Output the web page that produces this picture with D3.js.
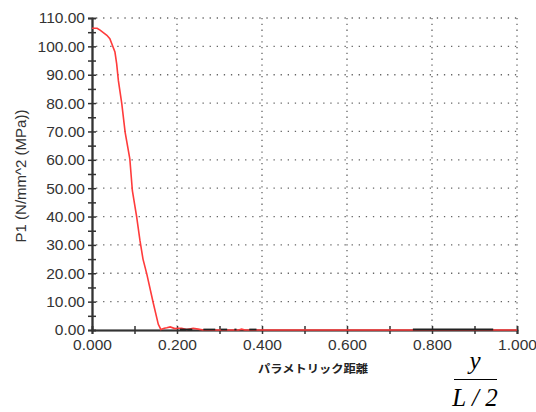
<!DOCTYPE html>
<html>
<head>
<meta charset="utf-8">
<script src="https://cdn.jsdelivr.net/npm/d3@7"></script>
<style>
  html, body { margin: 0; padding: 0; background: #fff; }
  svg { display: block; }
</style>
</head>
<body>
<div id="chart"></div>
<script>
// parametric distance (x) and P1 stress (MPa)
const distance = [0, 0.012, 0.019, 0.035, 0.042, 0.054, 0.058, 0.062, 0.070, 0.078, 0.089, 0.095,
  0.105, 0.113, 0.120, 0.129, 0.144, 0.156, 0.162, 0.170, 0.176, 0.184, 0.195, 0.203, 0.211,
  0.223, 0.238, 0.250, 0.262, 0.300, 0.345, 0.352, 0.360, 0.400, 0.500, 0.600, 0.700, 0.800,
  0.900, 1.000];
const p1 = [106.4, 106.4, 105.7, 103.9, 102.7, 98.0, 93.9, 88.0, 79.9, 69.7, 60.3, 49.1,
  40.0, 31.4, 25.0, 19.7, 9.6, 2.0, 0.2, 0.6, 0.8, 1.1, 0.5, 0.6, 0.6,
  0.2, 0.6, 0.3, 0, 0, 0, 0.3, 0, 0, 0, 0, 0, 0,
  0, 0];
// dark segments lying on the zero line
const darkStart = [0.207, 0.262, 0.303, 0.335, 0.370, 0.755];
const darkEnd   = [0.236, 0.290, 0.318, 0.340, 0.387, 0.944];

const yMajor = d3.range(0, 111, 10);
const yMinor = d3.range(5, 110, 10);
const xMajor = [0, 0.2, 0.4, 0.6, 0.8, 1.0];
const xMinor = [0.1, 0.3, 0.5, 0.7, 0.9];

const W = 536, H = 412;
const svg = d3.select('#chart').append('svg')
  .attr('width', W).attr('height', H);

const x = d3.scaleLinear().domain([0, 1]).range([92, 517]);
const y = d3.scaleLinear().domain([0, 110]).range([330, 18]);

// grid
svg.append('g').selectAll('line').data(yMajor.filter(d => d > 0)).enter().append('line')
  .attr('x1', x(0) + 4).attr('x2', x(1))
  .attr('y1', d => y(d)).attr('y2', d => y(d))
  .attr('stroke', '#666').attr('stroke-width', 1.3)
  .attr('stroke-dasharray', '1.3,5.8');

svg.append('g').selectAll('line').data(xMajor.filter(d => d > 0)).enter().append('line')
  .attr('x1', d => x(d)).attr('x2', d => x(d))
  .attr('y1', y(110)).attr('y2', y(0) - 4)
  .attr('stroke', '#666').attr('stroke-width', 1.3)
  .attr('stroke-dasharray', '1.3,4.5');

// axes
const font = '"Liberation Sans", Arial, sans-serif';

svg.append('g').attr('transform', `translate(${x(0)},0)`)
  .call(d3.axisLeft(y).tickValues(yMajor).tickSize(4).tickPadding(3)
    .tickFormat(d3.format('.2f')));
svg.append('g').attr('transform', `translate(${x(0)},0)`)
  .call(d3.axisRight(y).tickValues(yMajor.concat(yMinor)).tickSize(4).tickFormat(''));
svg.append('g').attr('transform', `translate(${x(0)},0)`)
  .call(d3.axisLeft(y).tickValues(yMinor).tickSize(4).tickFormat(''));

svg.append('g').attr('transform', `translate(0,${y(0)})`)
  .call(d3.axisBottom(x).tickValues(xMajor).tickSize(4).tickPadding(5)
    .tickFormat(d3.format('.3f')));
svg.append('g').attr('transform', `translate(0,${y(0)})`)
  .call(d3.axisTop(x).tickValues(xMajor.concat(xMinor)).tickSize(4).tickFormat(''));
svg.append('g').attr('transform', `translate(0,${y(0)})`)
  .call(d3.axisBottom(x).tickValues(xMinor).tickSize(4).tickFormat(''));

svg.selectAll('.domain').attr('stroke', '#333').attr('stroke-width', 1.6);
svg.selectAll('.tick line').attr('stroke', '#333').attr('stroke-width', 1.5);
svg.selectAll('.tick text').attr('font-family', font).attr('font-size', 15.5).attr('fill', '#333');

// P1 curve
const pts = distance.map((d, i) => [d, p1[i]]);
svg.append('path').datum(pts)
  .attr('fill', 'none').attr('stroke', '#ff3b3b').attr('stroke-width', 1.6)
  .attr('d', d3.line().x(d => x(d[0])).y(d => y(d[1])));

svg.append('g').selectAll('line').data(darkStart).enter().append('line')
  .attr('x1', d => x(d)).attr('x2', (d, i) => x(darkEnd[i]))
  .attr('y1', y(0) - 0.5).attr('y2', y(0) - 0.5)
  .attr('stroke', '#222').attr('stroke-width', 1.8);

// titles
svg.append('text')
  .attr('transform', `translate(26,176) rotate(-90)`)
  .attr('text-anchor', 'middle')
  .attr('font-family', font).attr('font-size', 15).attr('fill', '#333')
  .text('P1 (N/mm^2 (MPa))');

svg.append('text')
  .attr('x', 258).attr('y', 373)
  .attr('font-family', '"Noto Sans CJK JP", sans-serif').attr('font-size', 11)
  .attr('font-weight', 'bold').attr('fill', '#222')
  .attr('textLength', 110).attr('lengthAdjust', 'spacingAndGlyphs')
  .text('パラメトリック距離');

const serif = '"Liberation Serif", "Times New Roman", serif';
svg.append('text')
  .attr('x', 475).attr('y', 369).attr('text-anchor', 'middle')
  .attr('font-family', serif).attr('font-style', 'italic').attr('font-size', 25)
  .text('y');
svg.append('line')
  .attr('x1', 454).attr('x2', 497).attr('y1', 379.5).attr('y2', 379.5)
  .attr('stroke', '#000').attr('stroke-width', 1.2);
svg.append('text')
  .attr('x', 475).attr('y', 406).attr('text-anchor', 'middle')
  .attr('font-family', serif).attr('font-style', 'italic').attr('font-size', 25)
  .text('L / 2');
</script>
</body>
</html>
